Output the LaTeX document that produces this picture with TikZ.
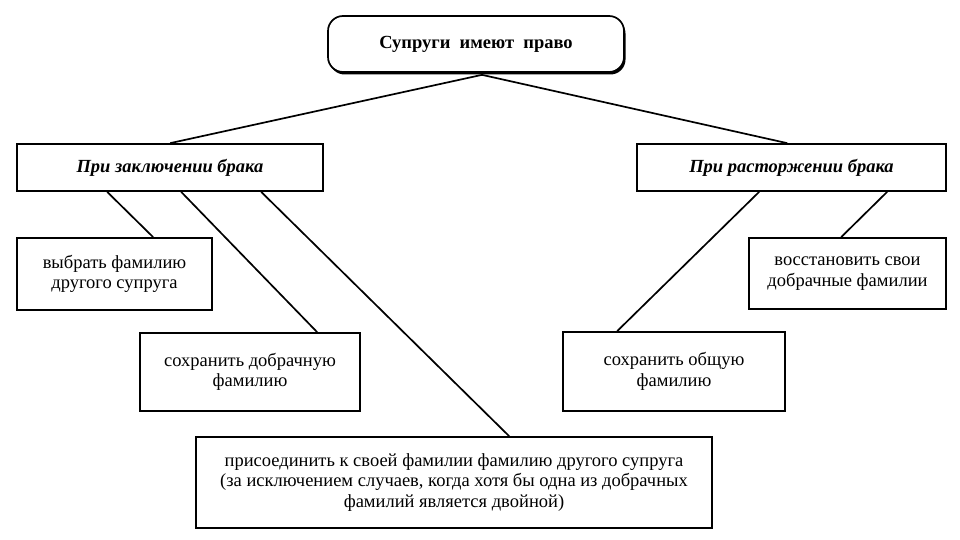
\documentclass[tikz,border=0pt]{standalone}
\usepackage{fontspec}
\setmainfont{Liberation Serif}
\usetikzlibrary{calc,shadows}
\begin{document}
\begin{tikzpicture}[x=1pt,y=-1pt,
  box/.style={draw=black,line width=1.7pt,fill=white,align=center,inner sep=2pt,font=\fontsize{18.5}{20.5}\selectfont},
  head/.style={box,font=\fontsize{18.5}{20.5}\selectfont\bfseries\itshape},
  link/.style={draw=black,line width=1.7pt}]
\useasboundingbox (0,0) rectangle (960,540);
\fill[white] (0,0) rectangle (960,540);
\node[box,rounded corners=15pt,minimum width=296pt,minimum height=56pt,
  drop shadow={shadow xshift=1.5pt,shadow yshift=-2.5pt,fill=black,opacity=1},
  font=\fontsize{18.5}{20.5}\selectfont\bfseries] (top) at (476,44) {Супруги\ \ имеют\ \ право};
\node[head,minimum width=306pt,minimum height=47pt] (lh) at (170,167.5) {При заключении брака};
\node[head,minimum width=309pt,minimum height=47pt] (rh) at (791.5,167.5) {При расторжении брака};
\node[box,minimum width=195pt,minimum height=72pt] (vyb) at (114.5,274) {выбрать фамилию\\другого супруга};
\node[box,minimum width=220pt,minimum height=78pt] (sd) at (250,372) {сохранить добрачную\\фамилию};
\node[box,minimum width=516pt,minimum height=91pt] (pr) at (454,482.5) {присоединить к своей фамилии фамилию другого супруга\\(за исключением случаев, когда хотя бы одна из добрачных\\фамилий является двойной)};
\node[box,minimum width=222pt,minimum height=79pt] (so) at (674,371.5) {сохранить общую\\фамилию};
\node[box,minimum width=197pt,minimum height=71pt] (vo) at (847.5,273.5) {восстановить свои\\добрачные фамилии};
\path[link] ($(top.south)+(6,2)$) -- ($(lh.north west)+(154,0)$);
\path[link] ($(top.south)+(6,2)$) -- ($(rh.north west)+(151,0)$);
\path[link] ($(lh.south west)+(91,0)$) -- ($(vyb.north west)+(137,0)$);
\path[link] ($(lh.south west)+(165,0)$) -- ($(sd.north west)+(178,0)$);
\path[link] ($(lh.south west)+(245,0)$) -- ($(pr.north west)+(314,0)$);
\path[link] ($(rh.south west)+(123,0)$) -- ($(so.north west)+(55,0)$);
\path[link] ($(rh.south west)+(251,0)$) -- ($(vo.north west)+(93,0)$);
\end{tikzpicture}
\end{document}
